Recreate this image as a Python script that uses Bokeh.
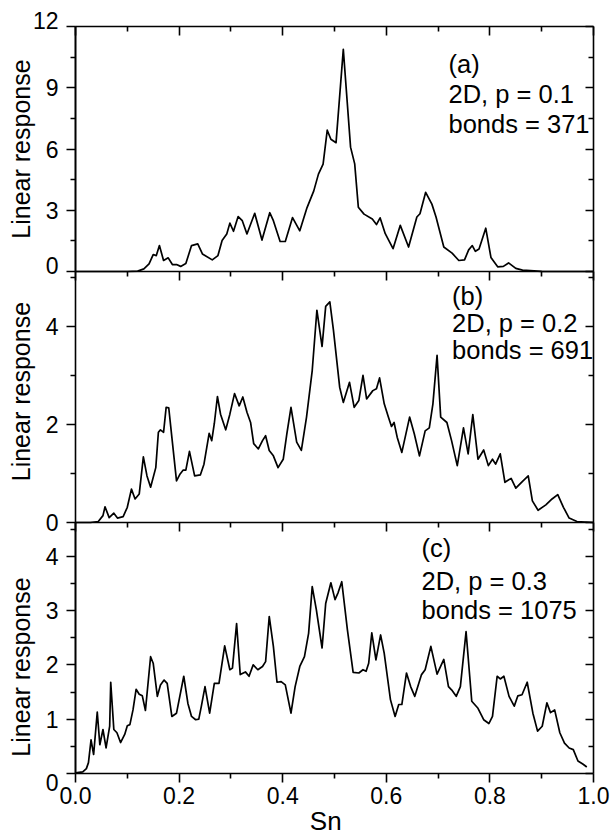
import math
from bokeh.plotting import figure
from bokeh.models import Range1d, LinearAxis, FixedTicker, Label, PrintfTickFormatter
from bokeh.embed import file_html
from bokeh.resources import INLINE

FONT = "Liberation Sans"

# ---------------- data ----------------
sn_a = [0.000, 0.100, 0.120, 0.132, 0.142, 0.150, 0.156, 0.162, 0.170, 0.179,
        0.187, 0.195, 0.203, 0.213, 0.224, 0.236, 0.245, 0.264, 0.275, 0.283,
        0.292, 0.298, 0.305, 0.314, 0.322, 0.331, 0.346, 0.360, 0.375, 0.382,
        0.395, 0.405, 0.419, 0.433, 0.447, 0.460, 0.469, 0.478, 0.486, 0.493,
        0.503, 0.517, 0.531, 0.539, 0.546, 0.557, 0.573, 0.581, 0.588, 0.598,
        0.613, 0.627, 0.643, 0.659, 0.665, 0.676, 0.688, 0.696, 0.711, 0.727,
        0.740, 0.751, 0.759, 0.766, 0.772, 0.779, 0.792, 0.802, 0.815, 0.826,
        0.836, 0.850, 0.863, 0.900, 1.000]
resp_a = [0, 0, 0.02, 0.13, 0.37, 0.83, 0.78, 1.27, 0.54, 0.67,
          0.34, 0.34, 0.25, 0.39, 1.27, 1.35, 0.86, 0.57, 0.78, 1.52,
          1.84, 2.37, 1.97, 2.69, 2.49, 1.84, 2.85, 1.54, 2.88, 2.49,
          1.47, 1.47, 2.64, 1.99, 3.13, 3.95, 4.77, 5.26, 6.92, 6.48,
          6.31, 10.88, 6.09, 5.27, 3.15, 2.81, 2.57, 2.30, 2.63, 1.85,
          1.12, 2.26, 1.20, 2.67, 2.83, 3.88, 3.30, 2.67, 1.20, 0.90,
          0.54, 0.57, 1.06, 1.27, 0.99, 1.10, 2.12, 0.69, 0.23, 0.25,
          0.42, 0.15, 0.07, 0.01, 0]

sn_b = [0.000, 0.029, 0.044, 0.053, 0.057, 0.065, 0.074, 0.081, 0.092, 0.100,
        0.108, 0.115, 0.123, 0.131, 0.138, 0.145, 0.155, 0.160, 0.164, 0.170,
        0.175, 0.180, 0.186, 0.195, 0.202, 0.208, 0.213, 0.220, 0.230, 0.241,
        0.248, 0.258, 0.263, 0.268, 0.274, 0.280, 0.290, 0.298, 0.307, 0.316,
        0.323, 0.331, 0.338, 0.344, 0.353, 0.361, 0.367, 0.374, 0.382, 0.391,
        0.401, 0.408, 0.416, 0.427, 0.436, 0.446, 0.457, 0.466, 0.476, 0.483,
        0.491, 0.498, 0.510, 0.517, 0.529, 0.538, 0.547, 0.555, 0.562, 0.574,
        0.581, 0.587, 0.596, 0.604, 0.610, 0.615, 0.621, 0.630, 0.645, 0.654,
        0.664, 0.675, 0.683, 0.690, 0.698, 0.705, 0.717, 0.726, 0.737, 0.749,
        0.758, 0.767, 0.777, 0.788, 0.797, 0.805, 0.811, 0.820, 0.829, 0.841,
        0.850, 0.863, 0.874, 0.882, 0.893, 0.908, 0.920, 0.931, 0.942, 0.953,
        0.968, 1.000]
resp_b = [0, 0, 0.02, 0.14, 0.32, 0.10, 0.19, 0.09, 0.12, 0.31,
          0.68, 0.48, 0.58, 1.34, 0.95, 0.72, 1.12, 1.84, 1.89, 1.84,
          2.35, 2.34, 1.74, 0.85, 0.99, 1.07, 1.07, 1.45, 0.95, 0.97,
          1.19, 1.82, 1.67, 2.02, 2.57, 2.21, 1.89, 2.21, 2.63, 2.38,
          2.56, 2.25, 2.04, 1.61, 1.50, 1.67, 1.77, 1.47, 1.36, 1.12,
          1.29, 1.81, 2.35, 1.64, 1.47, 2.15, 3.10, 4.33, 3.59, 4.41,
          4.50, 3.92, 2.76, 2.45, 2.86, 2.35, 2.49, 3.00, 2.52, 2.69,
          2.73, 2.95, 2.42, 2.15, 1.96, 2.04, 1.74, 1.43, 2.15, 1.81,
          1.36, 1.87, 1.93, 2.42, 3.41, 2.15, 2.04, 1.67, 1.16, 1.93,
          1.40, 2.20, 1.29, 1.48, 1.16, 1.29, 1.19, 1.40, 0.82, 0.90,
          0.70, 0.84, 0.95, 0.44, 0.25, 0.36, 0.48, 0.57, 0.31, 0.09,
          0.02, 0]

sn_c = [0.000, 0.014, 0.021, 0.025, 0.030, 0.035, 0.042, 0.047, 0.053, 0.059,
        0.066, 0.068, 0.074, 0.080, 0.087, 0.095, 0.100, 0.105, 0.111, 0.117,
        0.123, 0.129, 0.135, 0.145, 0.150, 0.158, 0.164, 0.171, 0.177, 0.186,
        0.195, 0.209, 0.217, 0.224, 0.232, 0.238, 0.243, 0.250, 0.259, 0.268,
        0.277, 0.288, 0.298, 0.303, 0.311, 0.318, 0.328, 0.335, 0.343, 0.352,
        0.361, 0.367, 0.374, 0.382, 0.389, 0.397, 0.405, 0.416, 0.424, 0.433,
        0.442, 0.450, 0.457, 0.465, 0.476, 0.483, 0.493, 0.501, 0.507, 0.514,
        0.525, 0.536, 0.547, 0.555, 0.561, 0.566, 0.572, 0.580, 0.589, 0.596,
        0.608, 0.617, 0.624, 0.630, 0.639, 0.647, 0.655, 0.668, 0.675, 0.686,
        0.698, 0.711, 0.720, 0.726, 0.735, 0.743, 0.754, 0.765, 0.777, 0.788,
        0.798, 0.805, 0.814, 0.820, 0.827, 0.837, 0.847, 0.854, 0.862, 0.872,
        0.883, 0.892, 0.901, 0.910, 0.917, 0.925, 0.935, 0.944, 0.953, 0.961,
        0.970, 0.980, 0.987]
resp_c = [0.01, 0.03, 0.09, 0.20, 0.62, 0.35, 1.13, 0.53, 0.81, 0.47,
          0.87, 1.68, 0.81, 0.75, 0.57, 0.72, 0.88, 0.90, 1.17, 1.55,
          1.46, 1.43, 1.16, 2.15, 2.03, 1.42, 1.63, 1.72, 1.66, 1.05,
          1.11, 1.79, 1.29, 1.05, 0.99, 1.00, 1.24, 1.60, 1.11, 1.66,
          1.66, 2.35, 1.91, 1.94, 2.76, 1.82, 1.87, 1.79, 2.00, 1.91,
          1.97, 2.06, 2.89, 2.34, 1.68, 1.69, 1.63, 1.11, 1.60, 1.97,
          2.15, 2.58, 3.44, 3.01, 2.31, 3.13, 3.51, 3.20, 3.33, 3.53,
          2.64, 1.86, 1.85, 1.91, 1.88, 2.03, 2.59, 2.09, 2.55, 2.21,
          1.36, 1.05, 1.27, 1.27, 1.85, 1.60, 1.42, 1.82, 1.91, 2.34,
          1.83, 2.10, 1.60, 1.54, 1.42, 1.60, 2.61, 1.33, 1.20, 0.99,
          0.92, 1.05, 1.79, 1.74, 1.79, 1.42, 1.24, 1.43, 1.45, 1.68,
          1.11, 0.78, 0.87, 1.30, 1.12, 1.17, 0.75, 0.56, 0.47, 0.44,
          0.23, 0.17, 0.12]

x_major = [0.0, 0.2, 0.4, 0.6, 0.8, 1.0]
x_minor = [0.1, 0.3, 0.5, 0.7, 0.9]

y_major_a = [3, 6, 9]
y_edge_a = [0, 12]
y_minor_a = [1.5, 4.5, 7.5, 10.5]
y_major_b = [0, 2, 4]
y_minor_b = [1, 3, 5]
y_major_c = [1, 2, 3, 4]
y_edge_c = [0]
y_minor_c = [0.5, 1.5, 2.5, 3.5, 4.5]

ymax = {"a": 12.0, "b": 5.12, "c": 4.62}

notes = {
    "a": ["(a)", "2D, p = 0.1", "bonds = 371"],
    "b": ["(b)", "2D, p = 0.2", "bonds = 691"],
    "c": ["(c)", "2D, p = 0.3", "bonds = 1075"],
}
x_label = "Sn"
y_label = "Linear response"

# ---------------- layout ----------------
W, H = 612, 838
PL, PR = 75, 593            # pixel x of Sn = 0 and Sn = 1
# (pixel offset from canvas bottom, pixel height) of each panel
panel_px = {"a": (567, 245), "b": (316, 251), "c": (65, 251)}
rname = {"a": "a", "b": "b", "c": "default"}

def make_range(name):
    b0, h = panel_px[name]
    s = ymax[name] / h
    return Range1d(start=-b0 * s, end=ymax[name] + (H - b0 - h) * s)

xs_ = 1.0 / (PR - PL)
p = figure(width=W, height=H,
           x_range=Range1d(-PL * xs_, 1.0 + (W - PR) * xs_),
           y_range=make_range("c"),
           output_backend="svg", toolbar_location=None,
           x_axis_location=None, y_axis_location=None,
           min_border=0, min_border_left=0, min_border_right=0,
           min_border_top=0, min_border_bottom=0,
           outline_line_color=None, background_fill_color="white",
           border_fill_color="white")
p.xgrid.visible = False
p.ygrid.visible = False
p.extra_y_ranges = {"a": make_range("a"), "b": make_range("b")}

LW = 1.6
MAJ, MIN = 9, 5
TICK_FS = "23px"

def base_axis(ax):
    ax.axis_line_width = LW
    ax.major_tick_line_width = LW
    ax.minor_tick_line_width = LW
    ax.axis_line_color = "black"
    ax.major_tick_line_color = "black"
    ax.minor_tick_line_color = "black"
    ax.major_label_text_font = FONT
    ax.major_label_text_font_size = TICK_FS
    ax.major_label_text_color = "black"
    return ax

def hidden_labels(ax):
    ax.major_label_text_color = None
    return ax

# curves
for name, xs, ys in [("a", sn_a, resp_a), ("b", sn_b, resp_b), ("c", sn_c, resp_c)]:
    p.line(xs, ys, y_range_name=rname[name], line_color="black", line_width=1.7,
           line_join="round")

panels = {
    "a": (y_major_a, y_minor_a, y_edge_a),
    "b": (y_major_b, y_minor_b, []),
    "c": (y_major_c, y_minor_c, y_edge_c),
}

for name, (maj, mino, edge) in panels.items():
    rn = rname[name]
    ybounds = (0.0, ymax[name])
    # left axis (ticks outward, labelled)
    ax = base_axis(LinearAxis(y_range_name=rn, fixed_location=0.0, bounds=ybounds,
                              ticker=FixedTicker(ticks=maj, minor_ticks=mino),
                              major_tick_out=MAJ, major_tick_in=0,
                              minor_tick_out=MIN, minor_tick_in=0,
                              major_label_standoff=8))
    p.add_layout(ax, "left")
    if edge:
        ax2 = hidden_labels(base_axis(LinearAxis(y_range_name=rn, fixed_location=0.0,
                              bounds=ybounds,
                              ticker=FixedTicker(ticks=edge, minor_ticks=[]),
                              major_tick_out=MAJ, major_tick_in=0,
                              minor_tick_out=0, minor_tick_in=0)))
        p.add_layout(ax2, "left")
    # right axis (ticks inward, no labels)
    ax = hidden_labels(base_axis(LinearAxis(y_range_name=rn, fixed_location=1.0,
                              bounds=ybounds,
                              ticker=FixedTicker(ticks=maj + edge, minor_ticks=mino),
                              major_tick_out=0, major_tick_in=MAJ - 1,
                              minor_tick_out=0, minor_tick_in=MIN)))
    p.add_layout(ax, "right")
    # top axis of the panel (ticks inward)
    ax = hidden_labels(base_axis(LinearAxis(y_range_name=rn, fixed_location=ymax[name],
                              bounds=(0.0, 1.0),
                              ticker=FixedTicker(ticks=x_major, minor_ticks=x_minor),
                              major_tick_out=0, major_tick_in=MAJ,
                              minor_tick_out=0, minor_tick_in=MIN)))
    p.add_layout(ax, "above")

# bottom axis
bx = base_axis(LinearAxis(fixed_location=0.0, bounds=(0.0, 1.0),
                          ticker=FixedTicker(ticks=x_major, minor_ticks=x_minor),
                          formatter=PrintfTickFormatter(format="%.1f"),
                          major_tick_out=MAJ, major_tick_in=0,
                          minor_tick_out=MIN, minor_tick_in=0,
                          major_label_standoff=4))
p.add_layout(bx, "below")

# edge tick labels (offset like the original)
edge_offsets = {"a": 6, "c": -9}
for name, edge in [("a", y_edge_a), ("c", y_edge_c)]:
    for v in edge:
        p.add_layout(Label(x=0.0, y=v, y_range_name=rname[name], x_offset=-(MAJ + 8),
                           y_offset=edge_offsets[name], text=str(v),
                           text_align="right", text_baseline="middle",
                           text_font=FONT, text_font_size=TICK_FS, text_color="black"))

# y axis titles
ylab_pos = {"a": 6.0, "b": 2.67, "c": 1.96}
for name in ["a", "b", "c"]:
    p.add_layout(Label(x=0.0, y=ylab_pos[name], y_range_name=rname[name], x_offset=-55,
                       text=y_label, angle=math.pi / 2, text_align="center",
                       text_baseline="middle", text_font=FONT, text_font_size="25px",
                       text_color="black"))

# x axis title
p.add_layout(Label(x=0.483, y=0.0, y_offset=-47, text=x_label, text_align="center",
                   text_baseline="middle", text_font=FONT, text_font_size="26px",
                   text_color="black"))

# panel annotations
note_x = {"a": 0.72, "b": 0.727, "c": 0.668}
note_y = {"a": [10.15, 8.7, 7.22], "b": [4.62, 4.06, 3.51], "c": [4.15, 3.54, 3.01]}
for name in ["a", "b", "c"]:
    for txt, yy in zip(notes[name], note_y[name]):
        p.add_layout(Label(x=note_x[name], y=yy, y_range_name=rname[name], text=txt,
                           text_align="left", text_baseline="middle",
                           text_font=FONT, text_font_size="25.5px", text_color="black"))

open("out.html", "w").write(file_html(p, INLINE))
